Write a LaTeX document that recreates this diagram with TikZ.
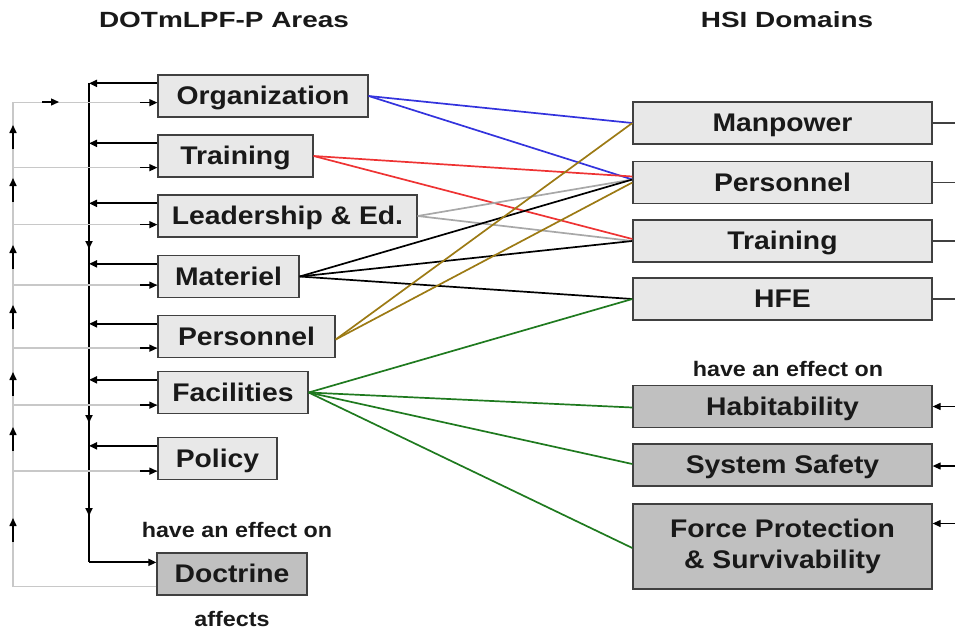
\documentclass[tikz,border=0pt]{standalone}
\usepackage{fontspec}
\setmainfont{Liberation Sans}[FakeStretch=1.11]
\newfontfamily\titlefont{Liberation Sans}[FakeStretch=1.27]
\usetikzlibrary{arrows.meta,calc}
\definecolor{lightbox}{HTML}{E8E8E8}
\definecolor{darkbox}{HTML}{C0C0C0}
\definecolor{boxedge}{HTML}{404040}
\definecolor{loopgray}{HTML}{C8C8C8}
\definecolor{cblue}{HTML}{3333DD}
\definecolor{cred}{HTML}{EE3333}
\definecolor{cgray}{HTML}{A8A8A8}
\definecolor{cgold}{HTML}{9C7A14}
\definecolor{cgreen}{HTML}{1F7A1F}
\begin{document}
\begin{tikzpicture}[x=1pt,y=-1pt,
  boxbase/.style={draw=boxedge,line width=1.3pt,fill=lightbox,inner sep=0pt,text=black!90},
  box/.style={boxbase,minimum height=42pt,text height=18pt,text depth=1pt,
    font=\bfseries\fontsize{25.5}{27}\selectfont},
  dbox/.style={box,fill=darkbox},
  lbl/.style={font=\bfseries\fontsize{21}{23}\selectfont,text=black!90},
  ttl/.style={font=\titlefont\bfseries\fontsize{22}{24}\selectfont,text=black!90},
  tip/.style={-{Triangle[length=8pt,width=7pt]}},
  blk/.style={black,line width=1.8pt},
  lgray/.style={loopgray,line width=1.6pt},
  link/.style={line width=1.7pt}]
\useasboundingbox (0,0) rectangle (955,633);
% titles
\node[ttl] (t1) at (224,20) {DOTmLPF-P Areas};
\node[ttl] (t2) at (787,20) {HSI Domains};
% left boxes
\node[box,minimum width=210pt] (org)  at (263,96)   {Organization};
\node[box,minimum width=155pt] (trn)  at (235.5,156) {Training};
\node[box,minimum width=259pt] (lead) at (287.5,216) {Leadership \& Ed.};
\node[box,minimum width=141pt] (mat)  at (228.5,276.5) {Materiel};
\node[box,minimum width=177pt] (pers) at (246.5,336.5) {Personnel};
\node[box,minimum width=150pt] (fac)  at (233,392.5) {Facilities};
\node[box,minimum width=119pt] (pol)  at (217.5,458.5) {Policy};
\node[dbox,minimum width=150pt] (doc) at (232,574) {Doctrine};
\node[lbl] (eff1) at (237,530) {have an effect on};
\node[lbl] (aff) at (232,619) {affects};
% right boxes
\node[box,minimum width=299pt] (man)  at (782.5,123) {Manpower};
\node[box,minimum width=299pt] (hper) at (782.5,182.5) {Personnel};
\node[box,minimum width=299pt] (htrn) at (782.5,241) {Training};
\node[box,minimum width=299pt] (hfe)  at (782.5,299) {HFE};
\node[lbl] (eff2) at (788,369) {have an effect on};
\node[dbox,minimum width=299pt] (hab) at (782.5,406.5) {Habitability};
\node[dbox,minimum width=299pt] (ss)  at (782.5,465) {System Safety};
\node[boxbase,fill=darkbox,minimum width=299pt,minimum height=85pt,align=center,
  font=\bfseries\fontsize{25.5}{31}\selectfont] (fp) at (782.5,546.5) {Force Protection\\\& Survivability};
% coordinates of the left loops
\coordinate (bx) at (89,0);
\coordinate (gx) at (13,0);
\coordinate (ax) at (140,0);
\coordinate (rx) at (955,0);
% black collector line
\draw[blk] ([yshift=-9pt]org.north west -| bx) -- ([yshift=-10pt]doc.north west -| bx);
\draw[blk,tip] ([yshift=-10pt]doc.north west -| bx) -- ([yshift=-10pt]doc.north west);
\foreach \n in {org,trn,lead,mat,pers,fac,pol}{
  \draw[blk,tip] ([yshift=-9pt]\n.north west) -- ([yshift=-9pt]\n.north west -| bx);
}
\foreach \yy in {240,414,507}{
  \draw[blk,tip] (89,\yy) -- (89,\yy+9);
}
% gray feedback loop
\draw[lgray] ([yshift=9pt]doc.south west) -- ([yshift=9pt]doc.south west -| gx) -- ([yshift=15pt]org.south west -| gx) -- ([yshift=15pt]org.south west);
\foreach \n/\d in {trn/10,lead/13,mat/13,pers/10,fac/9,pol/9}{
  \draw[lgray] ([yshift=\d pt]\n.south west -| gx) -- ([yshift=\d pt]\n.south west);
}
\foreach \n/\d in {org/15,trn/10,lead/13,mat/13,pers/10,fac/9,pol/9}{
  \draw[black,line width=1.4pt,tip] ([yshift=\d pt]\n.south west -| ax) -- ([yshift=\d pt]\n.south west);
}
\draw[black,line width=1.4pt,tip] (42,102) -- (59,102);
\foreach \yy in {125,178,245,305,372,427,518}{
  \draw[black,line width=1.6pt,tip] (13,\yy+24) -- (13,\yy);
}
% right stubs
\foreach \n in {man,hper,htrn,hfe}{
  \draw[boxedge,line width=1.3pt] (\n.east) -- (\n.east -| rx);
}
\draw[black,line width=1.2pt,tip] (hab.east -| rx) -- (hab.east);
\draw[black,line width=1.2pt,tip] ([yshift=-1pt]ss.east -| rx) -- ([yshift=-1pt]ss.east);
\draw[black,line width=1.2pt,tip] ([yshift=23pt]fp.east -| rx) -- ([yshift=23pt]fp.east);
% mapping links
\draw[link,cblue] (org.east) -- (man.west);
\draw[link,cblue] (org.east) -- ([yshift=3pt]hper.west);
\draw[link,cred] (trn.east) -- ([yshift=6pt]hper.west);
\draw[link,cred] (trn.east) -- ([yshift=2pt]htrn.west);
\draw[link,cgray] (lead.east) -- ([yshift=3pt]hper.west);
\draw[link,cgray] (lead.east) -- (htrn.west);
\draw[link,black] (mat.east) -- ([yshift=3pt]hper.west);
\draw[link,black] (mat.east) -- (htrn.west);
\draw[link,black] (mat.east) -- (hfe.west);
\draw[link,cgold] ([yshift=-3pt]pers.east) -- (man.west);
\draw[link,cgold] ([yshift=-3pt]pers.east) -- (hper.west);
\draw[link,cgreen] (fac.east) -- (hfe.west);
\draw[link,cgreen] (fac.east) -- ([yshift=-1pt]hab.west);
\draw[link,cgreen] (fac.east) -- ([yshift=1pt]ss.west);
\draw[link,cgreen] (fac.east) -- ([yshift=-1.5pt]fp.west);
\end{tikzpicture}
\end{document}
